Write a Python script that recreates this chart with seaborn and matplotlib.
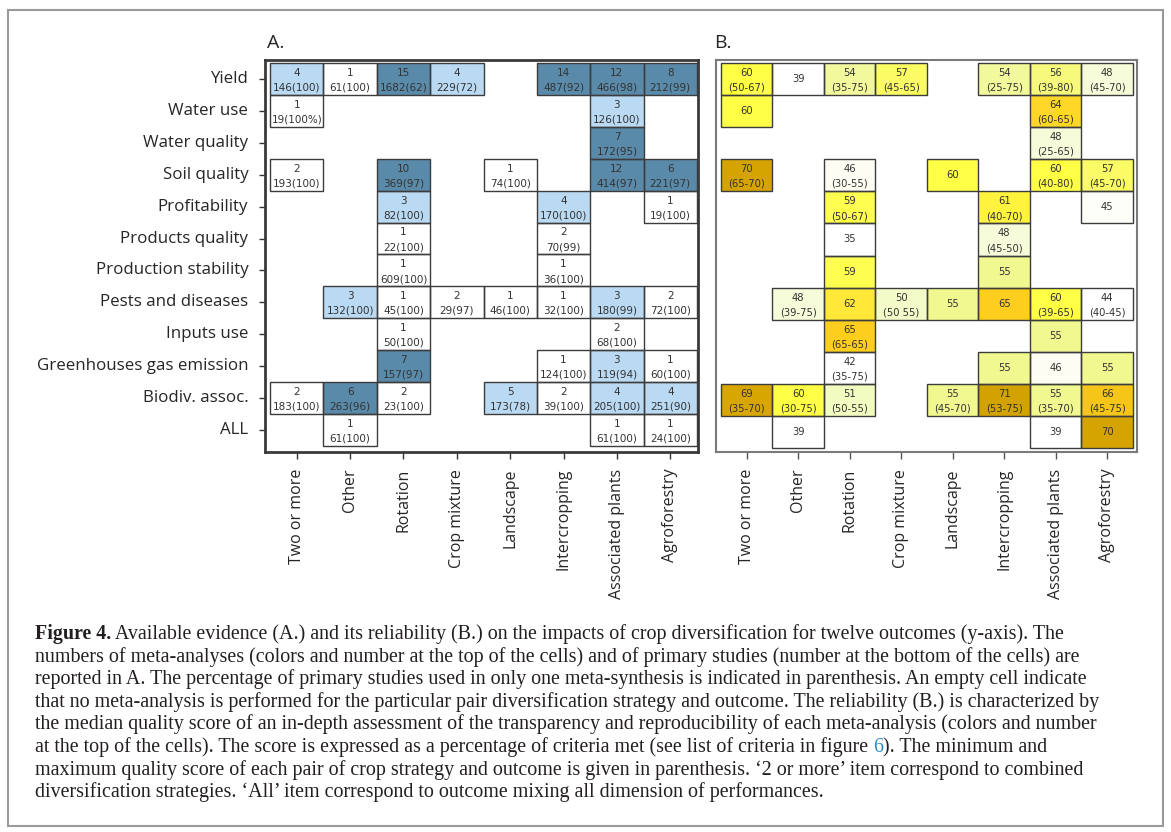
import numpy as np
import pandas as pd
import matplotlib
matplotlib.use("Agg")
from matplotlib import pyplot as plt
from matplotlib.colors import ListedColormap, BoundaryNorm, LinearSegmentedColormap
from matplotlib.patches import Rectangle
import seaborn as sns

N = None

strategies = ["Two or more", "Other", "Rotation", "Crop mixture", "Landscape",
              "Intercropping", "Associated plants", "Agroforestry"]
outcomes = ["Yield", "Water use", "Water quality", "Soil quality", "Profitability",
            "Products quality", "Production stability", "Pests and diseases",
            "Inputs use", "Greenhouses gas emission", "Biodiv. assoc.", "ALL"]

# A. number of meta-analyses / primary studies / % used in one meta-synthesis
n_meta = [
    [4, 1, 15, 4, N, 14, 12, 8],
    [1, N, N, N, N, N, 3, N],
    [N, N, N, N, N, N, 7, N],
    [2, N, 10, N, 1, N, 12, 6],
    [N, N, 3, N, N, 4, N, 1],
    [N, N, 1, N, N, 2, N, N],
    [N, N, 1, N, N, 1, N, N],
    [N, 3, 1, 2, 1, 1, 3, 2],
    [N, N, 1, N, N, N, 2, N],
    [N, N, 7, N, N, 1, 3, 1],
    [2, 6, 2, N, 5, 2, 4, 4],
    [N, 1, N, N, N, N, 1, 1],
]
n_studies = [
    [146, 61, 1682, 229, N, 487, 466, 212],
    [19, N, N, N, N, N, 126, N],
    [N, N, N, N, N, N, 172, N],
    [193, N, 369, N, 74, N, 414, 221],
    [N, N, 82, N, N, 170, N, 19],
    [N, N, 22, N, N, 70, N, N],
    [N, N, 609, N, N, 36, N, N],
    [N, 132, 45, 29, 46, 32, 180, 72],
    [N, N, 50, N, N, N, 68, N],
    [N, N, 157, N, N, 124, 119, 60],
    [183, 263, 23, N, 173, 39, 205, 251],
    [N, 61, N, N, N, N, 61, 24],
]
pct_single = [
    ["100", "100", "62", "72", N, "92", "98", "99"],
    ["100%", N, N, N, N, N, "100", N],
    [N, N, N, N, N, N, "95", N],
    ["100", N, "97", N, "100", N, "97", "97"],
    [N, N, "100", N, N, "100", N, "100"],
    [N, N, "100", N, N, "99", N, N],
    [N, N, "100", N, N, "100", N, N],
    [N, "100", "100", "97", "100", "100", "99", "100"],
    [N, N, "100", N, N, N, "100", N],
    [N, N, "97", N, N, "100", "94", "100"],
    ["100", "96", "100", N, "78", "100", "100", "90"],
    [N, "100", N, N, N, N, "100", "100"],
]

# B. median quality score and (min-max)
score = [
    [60, 39, 54, 57, N, 54, 56, 48],
    [60, N, N, N, N, N, 64, N],
    [N, N, N, N, N, N, 48, N],
    [70, N, 46, N, 60, N, 60, 57],
    [N, N, 59, N, N, 61, N, 45],
    [N, N, 35, N, N, 48, N, N],
    [N, N, 59, N, N, 55, N, N],
    [N, 48, 62, 50, 55, 65, 60, 44],
    [N, N, 65, N, N, N, 55, N],
    [N, N, 42, N, N, 55, 46, 55],
    [69, 60, 51, N, 55, 71, 55, 66],
    [N, 39, N, N, N, N, 39, 70],
]
score_range = [
    ["50-67", N, "35-75", "45-65", N, "25-75", "39-80", "45-70"],
    [N, N, N, N, N, N, "60-65", N],
    [N, N, N, N, N, N, "25-65", N],
    ["65-70", N, "30-55", N, N, N, "40-80", "45-70"],
    [N, N, "50-67", N, N, "40-70", N, N],
    [N, N, N, N, N, "45-50", N, N],
    [N, N, N, N, N, N, N, N],
    [N, "39-75", N, "50 55", N, N, "39-65", "40-45"],
    [N, N, "65-65", N, N, N, N, N],
    [N, N, "35-75", N, N, N, N, N],
    ["35-70", "30-75", "50-55", N, "45-70", "53-75", "35-70", "45-75"],
    [N, N, N, N, N, N, N, N],
]

caption = [
    " Available evidence (A.) and its reliability (B.) on the impacts of crop diversification for twelve outcomes (y-axis). The",
    "numbers of meta-analyses (colors and number at the top of the cells) and of primary studies (number at the bottom of the cells) are",
    "reported in A. The percentage of primary studies used in only one meta-synthesis is indicated in parenthesis. An empty cell indicate",
    "that no meta-analysis is performed for the particular pair diversification strategy and outcome. The reliability (B.) is characterized by",
    "the median quality score of an in-depth assessment of the transparency and reproducibility of each meta-analysis (colors and number",
    "at the top of the cells). The score is expressed as a percentage of criteria met (see list of criteria in figure ",
    "maximum quality score of each pair of crop strategy and outcome is given in parenthesis. \u20182 or more\u2019 item correspond to combined",
    "diversification strategies. \u2018All\u2019 item correspond to outcome mixing all dimension of performances.",
]

sns.set_style("white")
plt.rcParams['font.family'] = ['Open Sans', 'DejaVu Sans']

W, H = 1171, 832
fig = plt.figure(figsize=(W / 100, H / 100), dpi=100)


def px_axes(left, top, right, bottom):
    return fig.add_axes([left / W, 1 - bottom / H, (right - left) / W, (bottom - top) / H])


def outline_cells(ax, values):
    # border only around the cells that hold a value
    for i, row in enumerate(values):
        for j, v in enumerate(row):
            if v is not None:
                ax.add_patch(Rectangle((j, i), 1, 1, fill=False, edgecolor="#3c3c3c",
                                       linewidth=1, zorder=3))


df_meta = pd.DataFrame(n_meta, index=outcomes, columns=strategies, dtype=float)
df_score = pd.DataFrame(score, index=outcomes, columns=strategies, dtype=float)

cell_font = dict(ha="center", va="center", color="#333333", family="DejaVu Sans")

# ---- panel A
axA = px_axes(265, 60, 698, 452)
cmapA = ListedColormap(["#ffffff", "#bad9f2", "#5a8aa9"])
normA = BoundaryNorm([0.5, 2.5, 5.5, 100], 3)
sns.heatmap(df_meta, ax=axA, cmap=cmapA, norm=normA, cbar=False, linewidths=0)
outline_cells(axA, n_meta)
for i in range(len(outcomes)):
    for j in range(len(strategies)):
        if n_meta[i][j] is None:
            continue
        axA.text(j + 0.5, i + 0.31, str(n_meta[i][j]), fontsize=7.5, **cell_font)
        axA.text(j + 0.5, i + 0.77, f"{n_studies[i][j]}({pct_single[i][j]})",
                 fontsize=7.5, **cell_font)
axA.set_xlim(-0.094, 8.019)
axA.set_ylim(12.188, -0.094)
axA.set_xticks(np.arange(len(strategies)) + 0.5)
axA.set_xticklabels(strategies, rotation=90)
axA.set_yticks(np.arange(len(outcomes)) + 0.5)
axA.set_yticklabels(outcomes, rotation=0)
axA.tick_params(axis="y", length=4, width=1, pad=8, labelsize=12.2, left=True, color="#333")
axA.tick_params(axis="x", length=5, width=1, pad=7, labelsize=11.5, bottom=True, color="#333")
axA.set_xlabel("")
axA.set_ylabel("")
for s in axA.spines.values():
    s.set_visible(True)
    s.set_color("#3a3a3a")
    s.set_linewidth(2)
axA.text(0.005, 1.02, "A.", transform=axA.transAxes, fontsize=14, ha="left", va="bottom")

# ---- panel B
axB = px_axes(716, 60, 1137, 452)
cmapB = LinearSegmentedColormap.from_list("qual", [
    (0.0, "#ffffff"),
    (2 / 27, "#fdfdf2"),
    (4 / 27, "#f6fcd8"),
    (7 / 27, "#f2fcc0"),
    (11 / 27, "#f2f890"),
    (13 / 27, "#fbfb66"),
    (16 / 27, "#ffff45"),
    (18 / 27, "#ffe838"),
    (21 / 27, "#ffcf20"),
    (22 / 27, "#f5c518"),
    (25 / 27, "#d8a600"),
    (1.0, "#d2a200"),
])
sns.heatmap(df_score, ax=axB, cmap=cmapB, vmin=44, vmax=71, cbar=False, linewidths=0)
outline_cells(axB, score)
for i in range(len(outcomes)):
    for j in range(len(strategies)):
        if score[i][j] is None:
            continue
        if score_range[i][j] is None:
            axB.text(j + 0.5, i + 0.5, str(score[i][j]), fontsize=7.2, **cell_font)
        else:
            axB.text(j + 0.5, i + 0.31, str(score[i][j]), fontsize=7.2, **cell_font)
            axB.text(j + 0.5, i + 0.77, f"({score_range[i][j]})", fontsize=7.2, **cell_font)
axB.set_xlim(-0.097, 8.078)
axB.set_ylim(12.125, -0.094)
axB.set_xticks(np.arange(len(strategies)) + 0.5)
axB.set_xticklabels(strategies, rotation=90)
axB.set_yticks([])
axB.tick_params(axis="x", length=5, width=1, pad=7, labelsize=11.5, bottom=True, color="#555")
axB.set_xlabel("")
axB.set_ylabel("")
for s in axB.spines.values():
    s.set_visible(True)
    s.set_color("#7a7a7a")
    s.set_linewidth(1.5)
axB.text(-0.005, 1.02, "B.", transform=axB.transAxes, fontsize=14, ha="left", va="bottom")

# ---- outer frame and caption
fig.patches.append(Rectangle((8 / W, 1 - 826 / H), 1155 / W, 816 / H, transform=fig.transFigure,
                             fill=False, edgecolor="#9a9a9a", linewidth=1.5))

renderer = fig.canvas.get_renderer()
cap_kw = dict(fontsize=14.4, family="Liberation Serif", color="#231f20", va="baseline")
x0 = 35 / W
line_h = 22.6
y_first = 639
for k, line in enumerate(caption):
    y = 1 - (y_first + k * line_h) / H
    if k == 0:
        t = fig.text(x0, y, "Figure 4.", fontweight="bold", **cap_kw)
        bb = t.get_window_extent(renderer)
        fig.text(bb.x1 / W, y, line, **cap_kw)
    elif k == 5:
        t = fig.text(x0, y, line, **cap_kw)
        bb = t.get_window_extent(renderer)
        t2 = fig.text(bb.x1 / W, y, "6", **{**cap_kw, "color": "#2b8cc4"})
        bb2 = t2.get_window_extent(renderer)
        fig.text(bb2.x1 / W, y, "). The minimum and", **cap_kw)
    else:
        fig.text(x0, y, line, **cap_kw)

fig.savefig("out.png", dpi=100)
